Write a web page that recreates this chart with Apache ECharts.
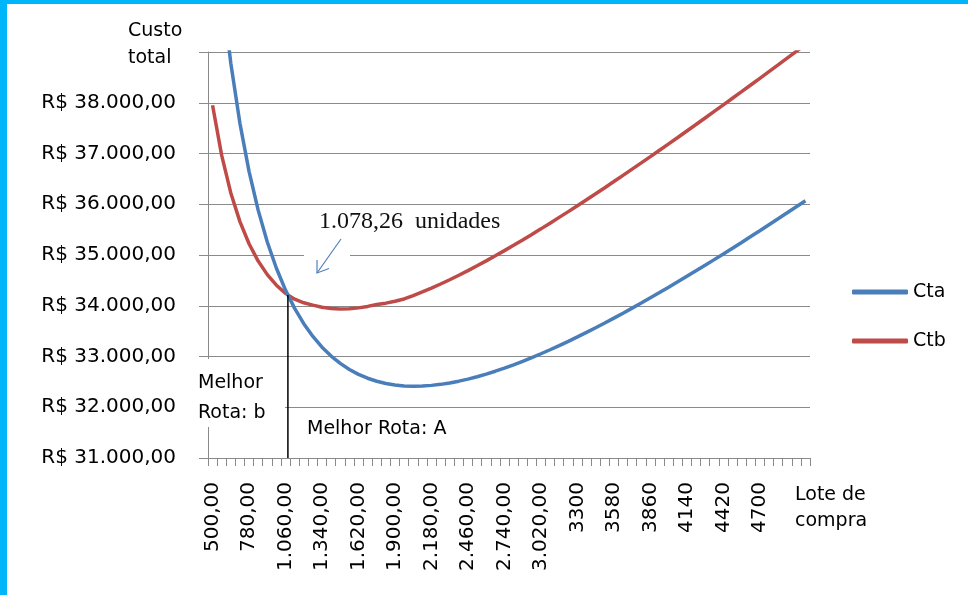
<!DOCTYPE html>
<html>
<head>
<meta charset="utf-8">
<script src="https://cdn.jsdelivr.net/npm/echarts@6/dist/echarts.min.js"></script>
<style>
html, body { margin: 0; padding: 0; background: #fff; }
#chart { width: 968px; height: 595px; }
</style>
</head>
<body>
<div id="chart"></div>
<script>
// lote de compra (unidades)
const loteValues = [
  500, 570, 640, 710, 780, 850, 920, 990, 1060, 1130,
  1200, 1270, 1340, 1410, 1480, 1550, 1620, 1690, 1760, 1830,
  1900, 1970, 2040, 2110, 2180, 2250, 2320, 2390, 2460, 2530,
  2600, 2670, 2740, 2810, 2880, 2950, 3020, 3090, 3160, 3230,
  3300, 3370, 3440, 3510, 3580, 3650, 3720, 3790, 3860, 3930,
  4000, 4070, 4140, 4210, 4280, 4350, 4420, 4490, 4560, 4630,
  4700, 4770, 4840, 4910, 4980, 5050
];
// custo total rota A
const cta = [
  42257, 40286, 38777, 37594, 36649, 35884, 35257, 34739, 34308, 33948,
  33647, 33396, 33184, 33009, 32864, 32745, 32648, 32572, 32512, 32469,
  32439, 32421, 32415, 32418, 32431, 32451, 32479, 32514, 32555, 32602,
  32654, 32710, 32771, 32836, 32906, 32978, 33054, 33133, 33215, 33299,
  33386, 33475, 33567, 33660, 33756, 33853, 33953, 34053, 34156, 34259,
  34364, 34471, 34579, 34688, 34798, 34909, 35021, 35134, 35248, 35363,
  35479, 35596, 35713, 35831, 35950, 36070
];
// custo total rota B
const ctb = [
  37950, 36962, 36223, 35658, 35221, 34880, 34613, 34405, 34244, 34130,
  34058, 34013, 33969, 33944, 33936, 33941, 33958, 33987, 34025, 34051,
  34089, 34134, 34201, 34272, 34347, 34429, 34513, 34601, 34692, 34787,
  34884, 34984, 35086, 35191, 35297, 35405, 35515, 35627, 35741, 35855,
  35971, 36089, 36207, 36326, 36447, 36569, 36692, 36815, 36939, 37065,
  37190, 37316, 37444, 37571, 37700, 37829, 37958, 38089, 38219, 38350,
  38482, 38614, 38746, 38879, 39012, 39146
];
const seriesNames = ['Cta', 'Ctb'];
const crossLote = 1078.26;
const crossCusto = 34210;
const lastDecimalLote = 3230; // labels after this lose the ",00"

const FONT = '"DejaVu Sans", sans-serif';
const BLUE = '#4A7EBB';
const RED = '#BE4B48';
const GRID = '#8a8a8a';

function fmtBR(v) {
  return String(v).replace(/\B(?=(\d{3})+(?!\d))/g, '.');
}
const loteLabels = loteValues.map(v => v <= lastDecimalLote ? fmtBR(v) + ',00' : String(v));

const chart = echarts.init(document.getElementById('chart'));

const option = {
  animation: false,
  backgroundColor: '#fff',
  grid: { left: 208, right: 158, top: 52, bottom: 137, outerBoundsMode: 'none' },
  legend: {
    orient: 'vertical',
    left: 847,
    top: 276,
    itemWidth: 56,
    itemHeight: 5,
    itemGap: 27,
    icon: 'roundRect',
    data: seriesNames,
    textStyle: { fontFamily: FONT, fontSize: 19, color: '#000', lineHeight: 22 }
  },
  xAxis: {
    type: 'category',
    data: loteLabels,
    boundaryGap: true,
    axisLine: { show: true, lineStyle: { color: GRID, width: 1 } },
    axisTick: { show: true, interval: 0, length: 8, lineStyle: { color: GRID, width: 1 } },
    axisLabel: {
      interval: (idx) => idx % 4 === 0 && idx <= 60,
      rotate: 90,
      margin: 24,
      fontFamily: FONT,
      fontSize: 20,
      color: '#000'
    },
    splitLine: { show: false }
  },
  yAxis: {
    type: 'value',
    min: 31000,
    max: 39000,
    interval: 1000,
    axisLine: { show: true, lineStyle: { color: GRID, width: 1 } },
    axisTick: { show: true, length: 9, lineStyle: { color: GRID } },
    axisLabel: {
      margin: 32,
      fontFamily: FONT,
      fontSize: 20,
      color: '#000',
      formatter: v => v >= 39000 ? '' : 'R$ ' + fmtBR(v) + ',00'
    },
    splitLine: { lineStyle: { color: GRID, width: 1 } }
  },
  series: [
    {
      name: seriesNames[0],
      type: 'line',
      data: cta,
      symbol: 'none',
      clip: true,
      color: BLUE,
      lineStyle: { color: BLUE, width: 3.5 },
      z: 3
    },
    {
      name: seriesNames[1],
      type: 'line',
      data: ctb,
      symbol: 'none',
      clip: true,
      color: RED,
      lineStyle: { color: RED, width: 3.5 },
      z: 2
    }
  ]
};
chart.setOption(option);

// position of the crossing point (1.078,26 units) between categories
const crossIdx = (crossLote - loteValues[0]) / (loteValues[1] - loteValues[0]);
const i0 = Math.floor(crossIdx);
const px0 = chart.convertToPixel({ xAxisIndex: 0 }, i0);
const px1 = chart.convertToPixel({ xAxisIndex: 0 }, i0 + 1);
const crossX = px0 + (crossIdx - i0) * (px1 - px0);
const crossY = chart.convertToPixel({ yAxisIndex: 0 }, crossCusto);
const baseY = chart.convertToPixel({ yAxisIndex: 0 }, 31000);

function label(text, x, y, extra) {
  return Object.assign({
    type: 'text',
    z: 60,
    style: { text: text, x: x, y: y, font: '19px ' + FONT, fill: '#000', verticalAlign: 'middle' }
  }, extra || {});
}

// arrow pointing to the crossing
const arrowTail = [341, 239];
const arrowTip = [317, 273];

chart.setOption({
  graphic: [
    // frame
    { type: 'rect', z: 100, shape: { x: 0, y: 0, width: 968, height: 4 }, style: { fill: '#00b6fb' } },
    { type: 'rect', z: 100, shape: { x: 0, y: 0, width: 7, height: 595 }, style: { fill: '#00b6fb' } },
    // axis titles
    label('Custo', 128, 31),
    label('total', 128, 58),
    label('Lote de', 795, 495),
    label('compra', 795, 521),
    // "Melhor Rota: b" box
    { type: 'rect', z: 55, shape: { x: 196, y: 359, width: 89, height: 68 }, style: { fill: '#fff' } },
    label('Melhor', 198, 383),
    label('Rota: b', 198, 413),
    label('Melhor Rota: A', 307, 429),
    // vertical marker at the crossing
    {
      type: 'line', z: 58,
      shape: { x1: crossX, y1: crossY, x2: crossX, y2: baseY },
      style: { stroke: '#000', lineWidth: 1.5 }
    },
    // annotation
    { type: 'rect', z: 55, shape: { x: 304, y: 250, width: 46, height: 9 }, style: { fill: '#fff' } },
    {
      type: 'text', z: 60,
      style: {
        text: '1.078,26  unidades', x: 319, y: 222,
        font: '24px "Liberation Serif", serif', fill: '#111', verticalAlign: 'middle'
      }
    },
    {
      type: 'line', z: 60,
      shape: { x1: arrowTail[0], y1: arrowTail[1], x2: arrowTip[0], y2: arrowTip[1] },
      style: { stroke: '#4F81BD', lineWidth: 1.2 }
    },
    {
      type: 'polyline', z: 60,
      shape: { points: [[317, 260], arrowTip, [329, 268.5]] },
      style: { stroke: '#4F81BD', lineWidth: 1.2, fill: null }
    }
  ]
});
</script>
</body>
</html>
